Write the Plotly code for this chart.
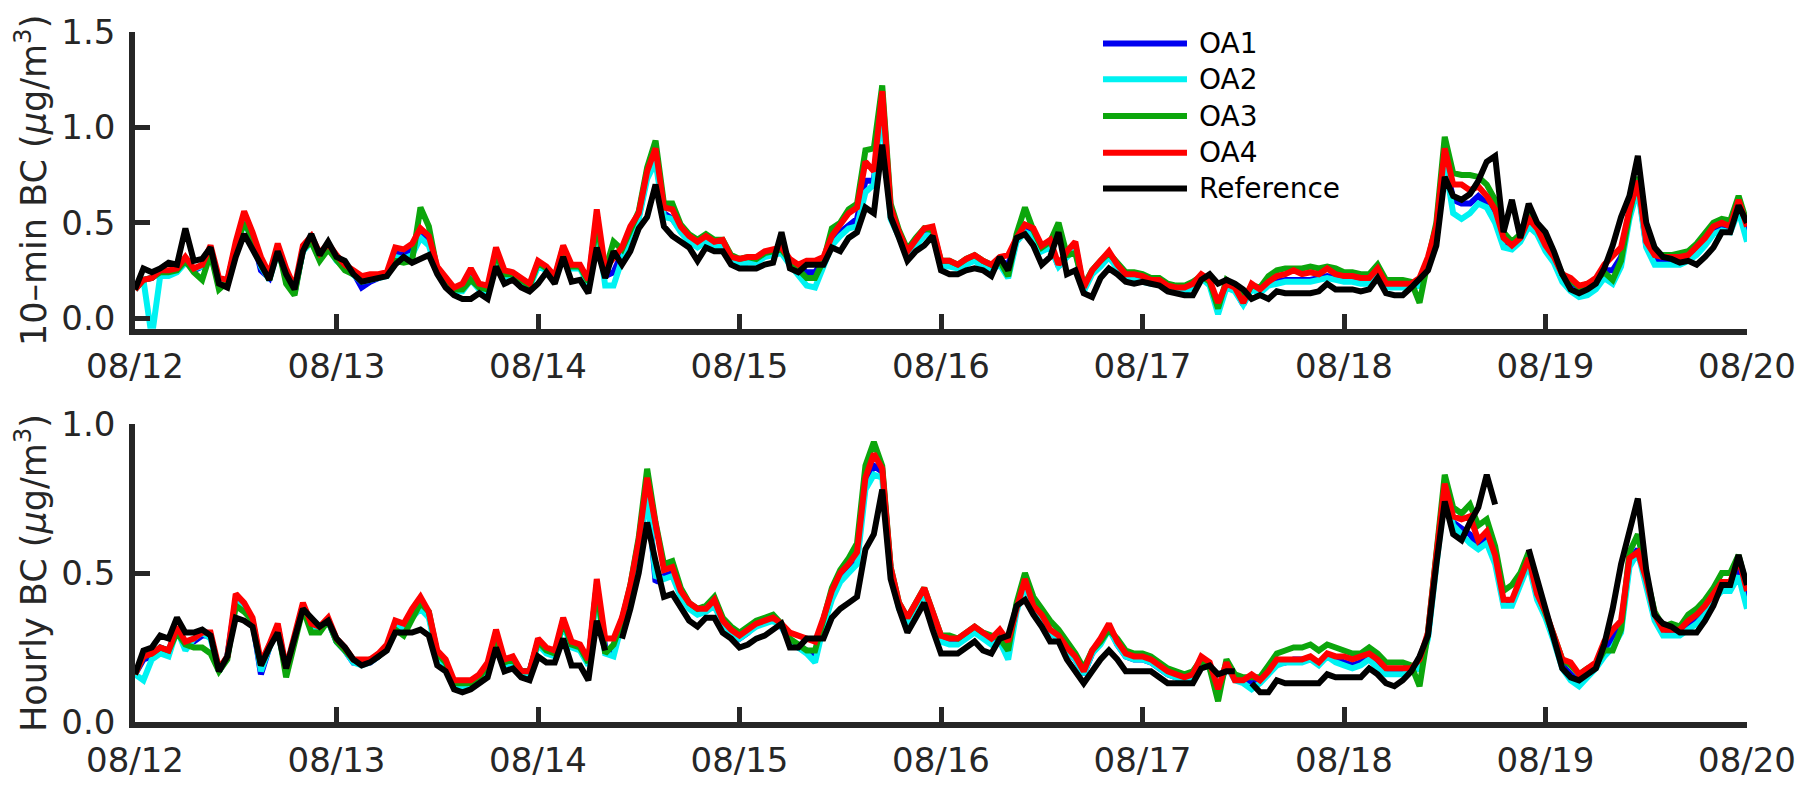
import plotly.graph_objects as go

# Hours elapsed since 08/12 00:00 (one sample per hour, 8 days)
HOURS = list(range(193))
DAY_LABELS = ["08/12", "08/13", "08/14", "08/15", "08/16", "08/17", "08/18", "08/19", "08/20"]
SERIES_NAMES = ["OA1", "OA2", "OA3", "OA4", "Reference"]
SERIES_COLORS = ["#0000f0", "#00f2f2", "#0ca60c", "#ff0000", "#000000"]

# ---- 10-min BC (ug/m3), sampled on the hour ----
TENMIN_OA1 = [
    0.15, 0.20, 0.21, 0.24, 0.24, 0.25, 0.30, 0.25, 0.27, 0.35, 0.19, 0.19,
    0.38, 0.52, 0.43, 0.25, 0.21, 0.36, 0.24, 0.13, 0.36, 0.41, 0.32, 0.38,
    0.31, 0.27, 0.24, 0.16, 0.19, 0.21, 0.23, 0.34, 0.33, 0.36, 0.44, 0.40,
    0.25, 0.20, 0.15, 0.16, 0.23, 0.16, 0.15, 0.35, 0.23, 0.22, 0.19, 0.17,
    0.28, 0.26, 0.21, 0.36, 0.27, 0.27, 0.19, 0.53, 0.22, 0.24, 0.34, 0.46,
    0.53, 0.75, 0.85, 0.55, 0.52, 0.46, 0.41, 0.38, 0.41, 0.38, 0.39, 0.31,
    0.29, 0.30, 0.30, 0.33, 0.34, 0.35, 0.29, 0.26, 0.24, 0.24, 0.30, 0.40,
    0.45, 0.49, 0.52, 0.72, 0.72, 1.14, 0.55, 0.43, 0.34, 0.39, 0.45, 0.46,
    0.28, 0.28, 0.27, 0.29, 0.31, 0.28, 0.26, 0.30, 0.28, 0.41, 0.47, 0.45,
    0.36, 0.39, 0.27, 0.34, 0.38, 0.15, 0.24, 0.28, 0.33, 0.27, 0.21, 0.21,
    0.20, 0.19, 0.19, 0.16, 0.15, 0.15, 0.17, 0.22, 0.18, 0.05, 0.17, 0.15,
    0.07, 0.16, 0.14, 0.18, 0.19, 0.20, 0.20, 0.20, 0.20, 0.21, 0.22, 0.21,
    0.20, 0.20, 0.19, 0.19, 0.24, 0.17, 0.17, 0.17, 0.17, 0.19, 0.30, 0.47,
    0.85, 0.62, 0.60, 0.60, 0.64, 0.60, 0.53, 0.39, 0.37, 0.41, 0.50, 0.45,
    0.36, 0.30, 0.21, 0.16, 0.13, 0.15, 0.18, 0.25, 0.25, 0.32, 0.55, 0.70,
    0.38, 0.30, 0.30, 0.30, 0.30, 0.31, 0.35, 0.40, 0.46, 0.48, 0.47, 0.59, 0.44,
]
TENMIN_OA2 = [
    0.15, 0.20, -0.10, 0.22, 0.22, 0.24, 0.29, 0.26, 0.27, 0.33, 0.18, 0.18,
    0.37, 0.50, 0.42, 0.27, 0.20, 0.35, 0.22, 0.14, 0.35, 0.40, 0.31, 0.37,
    0.30, 0.26, 0.23, 0.19, 0.20, 0.21, 0.22, 0.32, 0.31, 0.33, 0.42, 0.38,
    0.24, 0.19, 0.14, 0.14, 0.20, 0.15, 0.14, 0.33, 0.21, 0.21, 0.18, 0.16,
    0.27, 0.25, 0.20, 0.35, 0.26, 0.26, 0.18, 0.50, 0.17, 0.17, 0.31, 0.44,
    0.52, 0.73, 0.82, 0.53, 0.52, 0.45, 0.40, 0.37, 0.40, 0.37, 0.38, 0.30,
    0.28, 0.29, 0.29, 0.32, 0.33, 0.34, 0.28, 0.23, 0.17, 0.16, 0.28, 0.38,
    0.43, 0.47, 0.48, 0.66, 0.70, 1.10, 0.52, 0.42, 0.33, 0.38, 0.43, 0.44,
    0.27, 0.27, 0.26, 0.28, 0.30, 0.27, 0.25, 0.28, 0.21, 0.40, 0.45, 0.43,
    0.35, 0.37, 0.27, 0.32, 0.36, 0.14, 0.23, 0.27, 0.32, 0.26, 0.20, 0.20,
    0.19, 0.18, 0.18, 0.15, 0.14, 0.14, 0.16, 0.21, 0.17, 0.02, 0.16, 0.14,
    0.07, 0.15, 0.13, 0.17, 0.18, 0.19, 0.19, 0.19, 0.19, 0.20, 0.21, 0.20,
    0.19, 0.19, 0.18, 0.18, 0.23, 0.16, 0.16, 0.16, 0.16, 0.17, 0.28, 0.46,
    0.82, 0.55, 0.52, 0.55, 0.60, 0.58, 0.50, 0.37, 0.36, 0.40, 0.48, 0.44,
    0.35, 0.29, 0.19, 0.14, 0.11, 0.12, 0.15, 0.21, 0.18, 0.27, 0.52, 0.68,
    0.37, 0.28, 0.28, 0.28, 0.28, 0.30, 0.33, 0.38, 0.44, 0.46, 0.45, 0.56, 0.40,
]
TENMIN_OA3 = [
    0.15, 0.20, 0.21, 0.24, 0.24, 0.25, 0.30, 0.24, 0.20, 0.34, 0.15, 0.19,
    0.38, 0.50, 0.42, 0.30, 0.20, 0.38, 0.18, 0.12, 0.36, 0.40, 0.30, 0.36,
    0.30, 0.25, 0.23, 0.21, 0.22, 0.22, 0.23, 0.30, 0.29, 0.30, 0.58, 0.48,
    0.25, 0.21, 0.15, 0.15, 0.20, 0.16, 0.15, 0.34, 0.23, 0.23, 0.20, 0.17,
    0.29, 0.26, 0.21, 0.37, 0.27, 0.27, 0.19, 0.50, 0.25, 0.40, 0.36, 0.47,
    0.56, 0.79, 0.93, 0.60, 0.60, 0.49, 0.44, 0.41, 0.44, 0.41, 0.41, 0.33,
    0.31, 0.32, 0.31, 0.34, 0.35, 0.36, 0.30, 0.26, 0.21, 0.21, 0.30, 0.47,
    0.50, 0.57, 0.60, 0.88, 0.89, 1.22, 0.60, 0.46, 0.36, 0.42, 0.47, 0.46,
    0.30, 0.30, 0.28, 0.31, 0.33, 0.30, 0.28, 0.30, 0.22, 0.44, 0.58, 0.46,
    0.37, 0.40, 0.50, 0.33, 0.34, 0.17, 0.25, 0.30, 0.34, 0.29, 0.24, 0.24,
    0.23, 0.21, 0.21, 0.18, 0.17, 0.17, 0.19, 0.22, 0.19, 0.05, 0.20, 0.17,
    0.10, 0.17, 0.16, 0.22, 0.25, 0.26, 0.26, 0.26, 0.27, 0.26, 0.27, 0.26,
    0.24, 0.24, 0.23, 0.23, 0.28, 0.20, 0.20, 0.20, 0.19, 0.08, 0.30, 0.50,
    0.95, 0.76, 0.75, 0.75, 0.74, 0.70, 0.62, 0.45, 0.40, 0.44, 0.54, 0.48,
    0.40, 0.33, 0.23, 0.20, 0.16, 0.18, 0.20, 0.24, 0.20, 0.30, 0.55, 0.74,
    0.42, 0.34, 0.33, 0.33, 0.34, 0.35, 0.39, 0.44, 0.50, 0.52, 0.51, 0.64, 0.50,
]
TENMIN_OA4 = [
    0.15, 0.20, 0.21, 0.25, 0.25, 0.26, 0.32, 0.26, 0.28, 0.38, 0.21, 0.20,
    0.40, 0.56, 0.45, 0.32, 0.23, 0.39, 0.26, 0.16, 0.38, 0.43, 0.34, 0.39,
    0.33, 0.28, 0.25, 0.22, 0.23, 0.23, 0.24, 0.37, 0.36, 0.39, 0.47, 0.43,
    0.27, 0.22, 0.16, 0.18, 0.26, 0.18, 0.17, 0.37, 0.25, 0.24, 0.21, 0.18,
    0.30, 0.27, 0.22, 0.38, 0.28, 0.28, 0.20, 0.57, 0.26, 0.32, 0.37, 0.48,
    0.55, 0.77, 0.89, 0.58, 0.57, 0.48, 0.43, 0.40, 0.43, 0.40, 0.41, 0.32,
    0.31, 0.32, 0.32, 0.35, 0.36, 0.37, 0.31, 0.28, 0.30, 0.30, 0.32, 0.43,
    0.49, 0.55, 0.58, 0.82, 0.77, 1.19, 0.58, 0.45, 0.35, 0.41, 0.47, 0.48,
    0.30, 0.30, 0.28, 0.31, 0.33, 0.30, 0.28, 0.32, 0.33, 0.42, 0.49, 0.47,
    0.38, 0.41, 0.28, 0.35, 0.40, 0.16, 0.25, 0.30, 0.35, 0.28, 0.23, 0.23,
    0.22, 0.20, 0.20, 0.17, 0.16, 0.16, 0.18, 0.23, 0.20, 0.08, 0.18, 0.16,
    0.08, 0.18, 0.15, 0.19, 0.22, 0.23, 0.25, 0.23, 0.24, 0.23, 0.26, 0.23,
    0.22, 0.22, 0.21, 0.21, 0.26, 0.18, 0.18, 0.18, 0.18, 0.21, 0.32, 0.48,
    0.89, 0.70, 0.70, 0.67, 0.69, 0.64, 0.57, 0.42, 0.38, 0.42, 0.52, 0.47,
    0.38, 0.32, 0.23, 0.21, 0.17, 0.18, 0.21, 0.28, 0.32, 0.37, 0.57, 0.72,
    0.40, 0.33, 0.32, 0.32, 0.32, 0.33, 0.37, 0.42, 0.48, 0.50, 0.48, 0.62, 0.48,
]
TENMIN_REF = [
    0.15, 0.26, 0.24, 0.26, 0.29, 0.28, 0.47, 0.30, 0.31, 0.37, 0.18, 0.16,
    0.32, 0.44, 0.36, 0.28, 0.20, 0.35, 0.23, 0.15, 0.35, 0.44, 0.33, 0.40,
    0.32, 0.30, 0.23, 0.19, 0.20, 0.21, 0.22, 0.28, 0.32, 0.29, 0.31, 0.33,
    0.23, 0.16, 0.12, 0.10, 0.10, 0.13, 0.10, 0.27, 0.18, 0.20, 0.16, 0.14,
    0.18, 0.24, 0.18, 0.32, 0.19, 0.20, 0.13, 0.37, 0.21, 0.35, 0.28, 0.35,
    0.47, 0.53, 0.70, 0.48, 0.43, 0.40, 0.37, 0.30, 0.37, 0.35, 0.35, 0.28,
    0.26, 0.26, 0.26, 0.28, 0.29, 0.45, 0.26, 0.24, 0.28, 0.28, 0.28, 0.37,
    0.35, 0.42, 0.45, 0.58, 0.55, 0.91, 0.53, 0.42, 0.30, 0.35, 0.38, 0.43,
    0.25, 0.23, 0.23, 0.25, 0.26, 0.25, 0.22, 0.32, 0.25, 0.42, 0.44, 0.38,
    0.28, 0.32, 0.45, 0.23, 0.25, 0.13, 0.11, 0.21, 0.26, 0.23, 0.19, 0.18,
    0.19, 0.18, 0.17, 0.14, 0.13, 0.12, 0.12, 0.20, 0.23, 0.18, 0.20, 0.18,
    0.15, 0.10, 0.12, 0.10, 0.14, 0.13, 0.13, 0.13, 0.13, 0.14, 0.18, 0.15,
    0.15, 0.15, 0.14, 0.15, 0.21, 0.13, 0.12, 0.12, 0.16, 0.21, 0.25, 0.38,
    0.74, 0.64, 0.62, 0.65, 0.72, 0.82, 0.85, 0.45, 0.62, 0.42, 0.60, 0.50,
    0.45, 0.35, 0.23, 0.15, 0.13, 0.15, 0.18, 0.26, 0.38, 0.53, 0.64, 0.85,
    0.50, 0.37, 0.32, 0.31, 0.29, 0.30, 0.28, 0.32, 0.37, 0.45, 0.45, 0.59, 0.50,
]

# ---- Hourly BC (ug/m3); None marks missing hours ----
HOURLY_OA1 = [
    0.16, 0.21, 0.22, 0.25, 0.24, 0.31, 0.26, 0.27, 0.29, 0.29, 0.17, 0.22,
    0.41, 0.39, 0.34, 0.16, 0.25, 0.32, 0.17, 0.28, 0.39, 0.32, 0.31, 0.34,
    0.27, 0.24, 0.20, 0.20, 0.20, 0.22, 0.25, 0.33, 0.32, 0.37, 0.39, 0.36,
    0.23, 0.20, 0.12, 0.12, 0.13, 0.15, 0.19, 0.30, 0.20, 0.21, 0.17, 0.17,
    0.27, 0.24, 0.23, 0.34, 0.26, 0.25, 0.20, 0.46, 0.25, 0.24, 0.34, 0.45,
    0.59, 0.79, 0.47, 0.49, 0.50, 0.43, 0.39, 0.37, 0.38, 0.40, 0.34, 0.31,
    0.28, 0.30, 0.33, 0.34, 0.35, 0.32, 0.27, 0.25, 0.24, 0.22, 0.33, 0.43,
    0.49, 0.52, 0.56, 0.80, 0.86, 0.84, 0.51, 0.39, 0.35, 0.40, 0.44, 0.36,
    0.28, 0.27, 0.27, 0.29, 0.31, 0.29, 0.27, 0.29, 0.24, 0.38, 0.47, 0.38,
    0.35, 0.30, 0.28, 0.24, 0.21, 0.16, 0.23, 0.27, 0.32, 0.26, 0.22, 0.21,
    0.21, 0.20, 0.18, 0.16, 0.15, 0.14, 0.15, 0.21, 0.19, 0.11, 0.19, 0.15,
    0.14, 0.13, 0.14, 0.17, 0.20, 0.20, 0.21, 0.21, 0.21, 0.20, 0.22, 0.21,
    0.20, 0.19, 0.20, 0.22, 0.19, 0.17, 0.17, 0.17, 0.17, 0.19, 0.29, 0.55,
    0.78, 0.67, 0.65, 0.63, 0.59, 0.62, 0.55, 0.40, 0.40, 0.47, 0.54, 0.42,
    0.36, 0.28, 0.19, 0.16, 0.13, 0.16, 0.19, 0.24, 0.28, 0.32, 0.54, 0.58,
    0.47, 0.35, 0.30, 0.30, 0.30, 0.33, 0.35, 0.38, 0.42, 0.46, 0.46, 0.52, 0.42,
]
HOURLY_OA2 = [
    0.16, 0.14, 0.21, 0.23, 0.22, 0.31, 0.24, 0.28, 0.30, 0.28, 0.17, 0.22,
    0.40, 0.38, 0.34, 0.17, 0.25, 0.31, 0.17, 0.28, 0.39, 0.31, 0.31, 0.34,
    0.27, 0.24, 0.20, 0.19, 0.20, 0.22, 0.25, 0.32, 0.31, 0.35, 0.38, 0.35,
    0.22, 0.19, 0.12, 0.12, 0.12, 0.14, 0.18, 0.29, 0.19, 0.20, 0.16, 0.16,
    0.26, 0.23, 0.22, 0.33, 0.25, 0.24, 0.19, 0.44, 0.23, 0.22, 0.33, 0.44,
    0.58, 0.76, 0.49, 0.48, 0.49, 0.42, 0.38, 0.36, 0.37, 0.39, 0.33, 0.30,
    0.28, 0.30, 0.32, 0.33, 0.34, 0.32, 0.27, 0.25, 0.23, 0.20, 0.32, 0.41,
    0.47, 0.50, 0.53, 0.78, 0.83, 0.82, 0.50, 0.38, 0.34, 0.39, 0.43, 0.35,
    0.27, 0.26, 0.26, 0.28, 0.30, 0.28, 0.26, 0.27, 0.21, 0.37, 0.46, 0.37,
    0.35, 0.30, 0.28, 0.24, 0.21, 0.16, 0.23, 0.26, 0.31, 0.26, 0.22, 0.21,
    0.21, 0.20, 0.18, 0.16, 0.15, 0.14, 0.15, 0.20, 0.18, 0.10, 0.19, 0.14,
    0.13, 0.11, 0.13, 0.16, 0.19, 0.20, 0.20, 0.20, 0.21, 0.19, 0.22, 0.20,
    0.19, 0.18, 0.19, 0.21, 0.18, 0.16, 0.16, 0.16, 0.17, 0.18, 0.28, 0.54,
    0.77, 0.66, 0.63, 0.60, 0.58, 0.60, 0.53, 0.39, 0.39, 0.46, 0.53, 0.41,
    0.35, 0.27, 0.18, 0.14, 0.12, 0.15, 0.18, 0.22, 0.25, 0.30, 0.52, 0.57,
    0.46, 0.34, 0.29, 0.29, 0.29, 0.31, 0.33, 0.36, 0.41, 0.44, 0.44, 0.49, 0.38,
]
HOURLY_OA3 = [
    0.16, 0.22, 0.23, 0.25, 0.24, 0.30, 0.26, 0.25, 0.25, 0.23, 0.17, 0.21,
    0.39, 0.37, 0.34, 0.19, 0.25, 0.32, 0.15, 0.27, 0.38, 0.30, 0.30, 0.34,
    0.27, 0.24, 0.21, 0.20, 0.21, 0.22, 0.25, 0.31, 0.29, 0.35, 0.40, 0.37,
    0.23, 0.20, 0.13, 0.13, 0.13, 0.15, 0.19, 0.29, 0.20, 0.21, 0.17, 0.17,
    0.27, 0.24, 0.23, 0.34, 0.26, 0.25, 0.20, 0.46, 0.23, 0.26, 0.34, 0.46,
    0.62, 0.85, 0.67, 0.53, 0.54, 0.45, 0.40, 0.38, 0.39, 0.42, 0.35, 0.32,
    0.30, 0.32, 0.34, 0.35, 0.36, 0.33, 0.28, 0.26, 0.24, 0.24, 0.34, 0.45,
    0.51, 0.55, 0.60, 0.86, 0.94, 0.86, 0.52, 0.40, 0.35, 0.40, 0.45, 0.37,
    0.29, 0.29, 0.28, 0.30, 0.32, 0.30, 0.29, 0.28, 0.24, 0.40, 0.50, 0.42,
    0.38, 0.34, 0.31, 0.27, 0.23, 0.18, 0.24, 0.27, 0.31, 0.28, 0.24, 0.23,
    0.23, 0.22, 0.20, 0.18, 0.17, 0.16, 0.17, 0.21, 0.18, 0.07, 0.21, 0.16,
    0.15, 0.15, 0.15, 0.19, 0.23, 0.24, 0.25, 0.25, 0.26, 0.24, 0.26, 0.25,
    0.24, 0.23, 0.23, 0.25, 0.23, 0.20, 0.20, 0.20, 0.19, 0.12, 0.30, 0.58,
    0.83, 0.72, 0.70, 0.73, 0.66, 0.68, 0.59, 0.44, 0.46, 0.50, 0.57, 0.44,
    0.37, 0.29, 0.21, 0.19, 0.16, 0.18, 0.19, 0.24, 0.24, 0.31, 0.57, 0.63,
    0.49, 0.37, 0.32, 0.33, 0.32, 0.36, 0.38, 0.41, 0.45, 0.50, 0.50, 0.56, 0.45,
]
HOURLY_OA4 = [
    0.16, 0.22, 0.23, 0.25, 0.24, 0.32, 0.27, 0.28, 0.30, 0.30, 0.18, 0.22,
    0.43, 0.40, 0.35, 0.20, 0.26, 0.33, 0.18, 0.29, 0.40, 0.33, 0.32, 0.35,
    0.28, 0.25, 0.21, 0.21, 0.21, 0.23, 0.26, 0.34, 0.33, 0.38, 0.42, 0.37,
    0.24, 0.21, 0.14, 0.14, 0.14, 0.16, 0.20, 0.31, 0.21, 0.22, 0.17, 0.17,
    0.28, 0.25, 0.24, 0.35, 0.27, 0.26, 0.21, 0.48, 0.28, 0.28, 0.35, 0.46,
    0.61, 0.82, 0.66, 0.51, 0.52, 0.44, 0.40, 0.38, 0.38, 0.41, 0.34, 0.31,
    0.29, 0.31, 0.33, 0.34, 0.35, 0.33, 0.30, 0.29, 0.28, 0.27, 0.35, 0.44,
    0.50, 0.53, 0.57, 0.82, 0.90, 0.85, 0.52, 0.40, 0.35, 0.40, 0.45, 0.37,
    0.29, 0.28, 0.28, 0.30, 0.32, 0.30, 0.28, 0.31, 0.27, 0.38, 0.48, 0.39,
    0.36, 0.31, 0.29, 0.25, 0.22, 0.17, 0.24, 0.28, 0.33, 0.27, 0.23, 0.22,
    0.22, 0.21, 0.19, 0.17, 0.16, 0.15, 0.16, 0.22, 0.20, 0.11, 0.20, 0.14,
    0.14, 0.16, 0.14, 0.17, 0.21, 0.21, 0.21, 0.21, 0.22, 0.20, 0.23, 0.22,
    0.22, 0.21, 0.22, 0.23, 0.21, 0.18, 0.18, 0.18, 0.18, 0.21, 0.30, 0.56,
    0.80, 0.69, 0.68, 0.69, 0.61, 0.64, 0.56, 0.41, 0.41, 0.48, 0.55, 0.43,
    0.37, 0.29, 0.21, 0.20, 0.16, 0.18, 0.20, 0.27, 0.31, 0.34, 0.55, 0.57,
    0.48, 0.36, 0.31, 0.31, 0.31, 0.34, 0.36, 0.39, 0.43, 0.47, 0.47, 0.55, 0.44,
]
HOURLY_REF = [
    0.16, 0.24, 0.25, 0.29, 0.28, 0.35, 0.30, 0.30, 0.31, 0.29, 0.17, 0.22,
    0.35, 0.34, 0.32, 0.19, 0.25, 0.30, 0.18, 0.28, 0.38, 0.35, 0.32, 0.34,
    0.28, 0.25, 0.21, 0.19, 0.20, 0.22, 0.24, 0.30, 0.30, 0.30, 0.31, 0.29,
    0.19, 0.17, 0.11, 0.10, 0.11, 0.13, 0.15, 0.25, 0.17, 0.18, 0.15, 0.14,
    0.22, 0.20, 0.20, 0.28, 0.19, 0.19, 0.14, 0.34, 0.24, None, 0.28, 0.38,
    0.50, 0.67, 0.54, 0.42, 0.43, 0.38, 0.34, 0.32, 0.35, 0.35, 0.30, 0.28,
    0.25, 0.26, 0.28, 0.29, 0.31, 0.33, 0.25, 0.25, 0.28, 0.28, 0.28, 0.35,
    0.38, 0.40, 0.42, 0.58, 0.63, 0.78, 0.48, 0.38, 0.30, 0.35, 0.40, 0.31,
    0.23, 0.23, 0.23, 0.25, 0.27, 0.24, 0.23, 0.28, 0.29, 0.39, 0.41, 0.36,
    0.32, 0.27, 0.27, 0.21, 0.17, 0.13, 0.17, 0.21, 0.24, 0.21, 0.17, 0.17,
    0.17, 0.17, 0.15, 0.13, 0.13, 0.13, 0.13, 0.18, 0.19, 0.16, 0.17, 0.17,
    None, 0.13, 0.10, 0.10, 0.14, 0.13, 0.13, 0.13, 0.13, 0.13, 0.16, 0.15,
    0.15, 0.15, 0.15, 0.18, 0.16, 0.13, 0.12, 0.14, 0.17, 0.22, 0.29, 0.53,
    0.74, 0.63, 0.61, 0.67, 0.72, 0.83, 0.73, None, None, None, 0.58, 0.48,
    0.37, 0.28, 0.18, 0.15, 0.14, 0.16, 0.18, 0.26, 0.38, 0.53, 0.64, 0.75,
    0.51, 0.36, 0.33, 0.32, 0.30, 0.30, 0.30, 0.34, 0.39, 0.46, 0.46, 0.56, 0.46,
]

TENMIN = [TENMIN_OA1, TENMIN_OA2, TENMIN_OA3, TENMIN_OA4, TENMIN_REF]
HOURLY = [HOURLY_OA1, HOURLY_OA2, HOURLY_OA3, HOURLY_OA4, HOURLY_REF]

for group in (TENMIN, HOURLY):
    for name, values in zip(SERIES_NAMES, group):
        if len(values) != len(HOURS):
            raise ValueError(f"{name}: {len(values)} values, expected {len(HOURS)}")

AXIS_COLOR = "#262626"
FONT = "DejaVu Sans"
LINE_W = 6

days = [h / 24 for h in HOURS]

fig = go.Figure()
for name, color, ys in zip(SERIES_NAMES, SERIES_COLORS, TENMIN):
    fig.add_trace(go.Scatter(x=days, y=ys, mode="lines", name=name, showlegend=False,
                             line=dict(color=color, width=LINE_W), xaxis="x", yaxis="y"))
for name, color, ys in zip(SERIES_NAMES, SERIES_COLORS, HOURLY):
    fig.add_trace(go.Scatter(x=days, y=ys, mode="lines", name=name, showlegend=False,
                             line=dict(color=color, width=LINE_W), xaxis="x2", yaxis="y2"))

tick_font = dict(family=FONT, size=34, color=AXIS_COLOR)
title_font = dict(family=FONT, size=35, color=AXIS_COLOR)
axis_style = dict(showline=True, linecolor=AXIS_COLOR, linewidth=5.5, mirror=False,
                  ticks="inside", ticklen=15, tickwidth=5, tickcolor=AXIS_COLOR,
                  showgrid=False, zeroline=False, tickfont=tick_font)

x_style = dict(axis_style, range=[0, 8], tickvals=list(range(len(DAY_LABELS))),
               ticktext=DAY_LABELS, ticklabelstandoff=3)

fig.update_layout(
    width=1812, height=792,
    margin=dict(l=135, r=65, t=26, b=52),
    paper_bgcolor="white", plot_bgcolor="white",
    font=dict(family=FONT, color=AXIS_COLOR),
    xaxis=dict(x_style, domain=[0, 1], anchor="y"),
    yaxis=dict(axis_style, domain=[0.570, 1], anchor="x", range=[-0.056, 1.5],
               tickvals=[0, 0.5, 1.0, 1.5], tickformat=".1f", ticklabelstandoff=7,
               title=dict(text="10\u2013min BC (<i>\u03bc</i>g/m<sup>3</sup>)",
                          font=title_font, standoff=6)),
    xaxis2=dict(x_style, domain=[0, 1], anchor="y2"),
    yaxis2=dict(axis_style, domain=[0, 0.4318], anchor="x2", range=[0, 1.0],
                tickvals=[0, 0.5, 1.0], tickformat=".1f", ticklabelstandoff=7,
                title=dict(text="Hourly BC (<i>\u03bc</i>g/m<sup>3</sup>)",
                           font=title_font, standoff=6)),
)

# Legend drawn inside the upper panel with long line samples
legend_x0, legend_x1, legend_tx = 0.6005, 0.6526, 0.6588
legend_rows = [0.9832, 0.9314, 0.8782, 0.8249, 0.7731]
for name, color, y in zip(SERIES_NAMES, SERIES_COLORS, legend_rows):
    fig.add_shape(type="line", xref="paper", yref="paper", x0=legend_x0, x1=legend_x1,
                  y0=y, y1=y, line=dict(color=color, width=6))
    fig.add_annotation(xref="paper", yref="paper", x=legend_tx, y=y, text=name,
                       showarrow=False, xanchor="left", yanchor="middle",
                       font=dict(family=FONT, size=28, color="#000000"))

fig.write_html("out.html")
